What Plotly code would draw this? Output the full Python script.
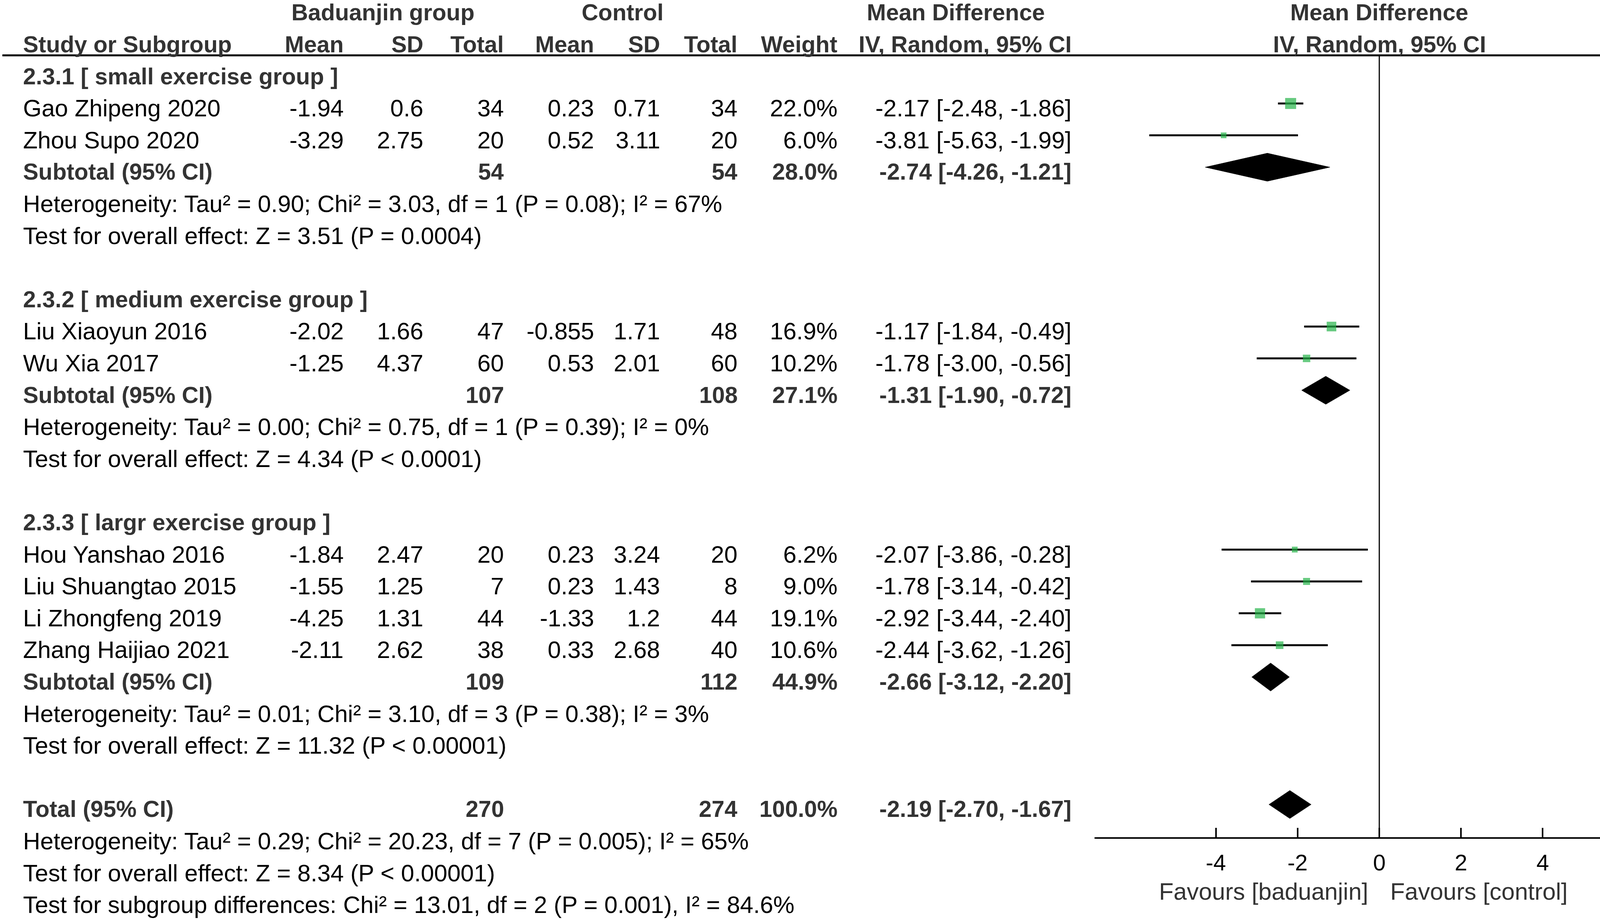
import plotly.graph_objects as go

# ---- data ----
studies = ["Gao Zhipeng 2020", "Zhou Supo 2020", "Liu Xiaoyun 2016", "Wu Xia 2017",
           "Hou Yanshao 2016", "Liu Shuangtao 2015", "Li Zhongfeng 2019", "Zhang Haijiao 2021"]
study_group = [0, 0, 1, 1, 2, 2, 2, 2]
exp_mean = ["-1.94", "-3.29", "-2.02", "-1.25", "-1.84", "-1.55", "-4.25", "-2.11"]
exp_sd = ["0.6", "2.75", "1.66", "4.37", "2.47", "1.25", "1.31", "2.62"]
exp_n = [34, 20, 47, 60, 20, 7, 44, 38]
ctl_mean = ["0.23", "0.52", "-0.855", "0.53", "0.23", "0.23", "-1.33", "0.33"]
ctl_sd = ["0.71", "3.11", "1.71", "2.01", "3.24", "1.43", "1.2", "2.68"]
ctl_n = [34, 20, 48, 60, 20, 8, 44, 40]
weight = [22.0, 6.0, 16.9, 10.2, 6.2, 9.0, 19.1, 10.6]
md = [-2.17, -3.81, -1.17, -1.78, -2.07, -1.78, -2.92, -2.44]
md_lo = [-2.48, -5.63, -1.84, -3.00, -3.86, -3.14, -3.44, -3.62]
md_hi = [-1.86, -1.99, -0.49, -0.56, -0.28, -0.42, -2.40, -1.26]

sub_titles = ["2.3.1 [ small exercise group ]", "2.3.2 [ medium exercise group ]",
              "2.3.3 [ largr exercise group ]"]
sub_exp_n = [54, 107, 109]
sub_ctl_n = [54, 108, 112]
sub_weight = [28.0, 27.1, 44.9]
sub_md = [-2.74, -1.31, -2.66]
sub_lo = [-4.26, -1.90, -3.12]
sub_hi = [-1.21, -0.72, -2.20]
sub_het = ["Heterogeneity: Tau² = 0.90; Chi² = 3.03, df = 1 (P = 0.08); I² = 67%",
           "Heterogeneity: Tau² = 0.00; Chi² = 0.75, df = 1 (P = 0.39); I² = 0%",
           "Heterogeneity: Tau² = 0.01; Chi² = 3.10, df = 3 (P = 0.38); I² = 3%"]
sub_z = ["Test for overall effect: Z = 3.51 (P = 0.0004)",
         "Test for overall effect: Z = 4.34 (P &lt; 0.0001)",
         "Test for overall effect: Z = 11.32 (P &lt; 0.00001)"]

total_exp_n = 270
total_ctl_n = 274
total_weight = 100.0
total_md = -2.19
total_lo = -2.70
total_hi = -1.67
total_notes = ["Heterogeneity: Tau² = 0.29; Chi² = 20.23, df = 7 (P = 0.005); I² = 65%",
               "Test for overall effect: Z = 8.34 (P &lt; 0.00001)",
               "Test for subgroup differences: Chi² = 13.01, df = 2 (P = 0.001), I² = 84.6%"]

tick_vals = [-4, -2, 0, 2, 4]
tick_text = ["-4", "-2", "0", "2", "4"]
favours = ["Favours [baduanjin]", "Favours [control]"]

# ---- layout constants (pixels of the 4317 x 2356 page) ----
W, H = 4317, 2356
ROW0, PITCH = 265, 81.6          # pixel y of row 0 and row pitch
TXT_OFF = 0.15                   # text sits a little lower than the marks
FONT = "Liberation Sans, Arial, sans-serif"
REG, BOLD = 61, 59
GREY = "#333333"
GREEN = "#27b34a"
COL = dict(name=57, mean_e=882, sd_e=1086, n_e=1292, mean_c=1523, sd_c=1692,
           n_c=1890, weight=2146, ci=2745)

annotations = []


def txt(x_px, k, s, anchor="right", bold=False, color="black", xref="paper", size=None):
    annotations.append(dict(
        x=x_px / W if xref == "paper" else x_px, y=k + TXT_OFF, xref=xref, yref="y",
        text=f"<b>{s}</b>" if bold else s, showarrow=False,
        xanchor=anchor, yanchor="middle",
        font=dict(family=FONT, size=size or (BOLD if bold else REG),
                  color=GREY if bold else color),
    ))


def ci_text(m, lo, hi):
    return f"{m:.2f} [{lo:.2f}, {hi:.2f}]"


# header
txt(980, -3, "Baduanjin group", "center", True)
txt(1594, -3, "Control", "center", True)
txt(2447, -3, "Mean Difference", "center", True)
txt(0, -3, "Mean Difference", "center", True, xref="x")
txt(COL["name"], -2, "Study or Subgroup", "left", True)
for key, lab in [("mean_e", "Mean"), ("sd_e", "SD"), ("n_e", "Total"), ("mean_c", "Mean"),
                 ("sd_c", "SD"), ("n_c", "Total"), ("weight", "Weight"),
                 ("ci", "IV, Random, 95% CI")]:
    txt(COL[key], -2, lab, "right", True)
txt(0, -2, "IV, Random, 95% CI", "center", True, xref="x")

# body rows
study_k, sub_k = [], []
k = -1
for g, title in enumerate(sub_titles):
    txt(COL["name"], k, title, "left", True)
    k += 1
    for i, name in enumerate(studies):
        if study_group[i] != g:
            continue
        study_k.append(k)
        txt(COL["name"], k, name, "left")
        txt(COL["mean_e"], k, exp_mean[i])
        txt(COL["sd_e"], k, exp_sd[i])
        txt(COL["n_e"], k, str(exp_n[i]))
        txt(COL["mean_c"], k, ctl_mean[i])
        txt(COL["sd_c"], k, ctl_sd[i])
        txt(COL["n_c"], k, str(ctl_n[i]))
        txt(COL["weight"], k, f"{weight[i]:.1f}%")
        txt(COL["ci"], k, ci_text(md[i], md_lo[i], md_hi[i]))
        k += 1
    sub_k.append(k)
    txt(COL["name"], k, "Subtotal (95% CI)", "left", True)
    txt(COL["n_e"], k, str(sub_exp_n[g]), bold=True)
    txt(COL["n_c"], k, str(sub_ctl_n[g]), bold=True)
    txt(COL["weight"], k, f"{sub_weight[g]:.1f}%", bold=True)
    txt(COL["ci"], k, ci_text(sub_md[g], sub_lo[g], sub_hi[g]), bold=True)
    txt(COL["name"], k + 1, sub_het[g], "left")
    txt(COL["name"], k + 2, sub_z[g], "left")
    k += 4

total_k = k
txt(COL["name"], total_k, "Total (95% CI)", "left", True)
txt(COL["n_e"], total_k, str(total_exp_n), bold=True)
txt(COL["n_c"], total_k, str(total_ctl_n), bold=True)
txt(COL["weight"], total_k, f"{total_weight:.1f}%", bold=True)
txt(COL["ci"], total_k, ci_text(total_md, total_lo, total_hi), bold=True)
for j, note in enumerate(total_notes):
    txt(COL["name"], total_k + 1 + j, note, "left")

axis_k = total_k + 1.05
header_k = -1.51
axis_px = ROW0 + PITCH * axis_k

fig = go.Figure()

# confidence interval whiskers
wx, wy = [], []
for i in range(len(studies)):
    wx += [md_lo[i], md_hi[i], None]
    wy += [study_k[i], study_k[i], None]
fig.add_trace(go.Scatter(x=wx, y=wy, mode="lines", line=dict(color="black", width=5),
                         hoverinfo="skip"))

# study squares, area proportional to weight
fig.add_trace(go.Scatter(
    x=md, y=study_k, mode="markers",
    marker=dict(symbol="square", color=GREEN, size=[6.0 * w ** 0.5 for w in weight],
                line=dict(width=0)),
))

# pooled diamonds
half = 0.44
pooled = list(zip(sub_md, sub_lo, sub_hi, sub_k)) + [(total_md, total_lo, total_hi, total_k)]
for m, lo, hi, kk in pooled:
    fig.add_trace(go.Scatter(
        x=[lo, m, hi, m, lo], y=[kk, kk - half, kk, kk + half, kk],
        mode="lines", fill="toself", fillcolor="black",
        line=dict(color="black", width=1), hoverinfo="skip",
    ))

# line of no effect
fig.add_trace(go.Scatter(x=[0, 0], y=[header_k, axis_k], mode="lines",
                         line=dict(color="black", width=3), hoverinfo="skip"))

# favours labels
txt(-0.25, axis_k + 1.68 - TXT_OFF, favours[0], "right", color=GREY, xref="x")
txt(0.25, axis_k + 1.68 - TXT_OFF, favours[1], "left", color=GREY, xref="x")

x0, x1 = 2802 / W, 4260 / W
fig.update_layout(
    width=W, height=H,
    margin=dict(l=0, r=0, t=0, b=0),
    paper_bgcolor="white", plot_bgcolor="white",
    showlegend=False,
    annotations=annotations,
    shapes=[dict(type="line", xref="paper", yref="y", x0=0.0014, x1=0.998,
                 y0=header_k, y1=header_k, line=dict(color="black", width=5))],
    xaxis=dict(
        domain=[x0, x1], range=[-6.97, 6.97], anchor="free",
        position=1 - axis_px / H,
        showline=True, linecolor="black", linewidth=4,
        ticks="inside", ticklen=24, tickwidth=4, tickcolor="black",
        tickvals=tick_vals, ticktext=tick_text, ticklabelstandoff=12,
        tickfont=dict(family=FONT, size=58, color="black"),
        showgrid=False, zeroline=False,
    ),
    yaxis=dict(domain=[0, 1], range=[(H - ROW0) / PITCH, -ROW0 / PITCH],
               visible=False, showgrid=False, zeroline=False),
)

fig.write_html("out.html", config={"displayModeBar": False},
               post_script="document.body.style.margin='0';")
